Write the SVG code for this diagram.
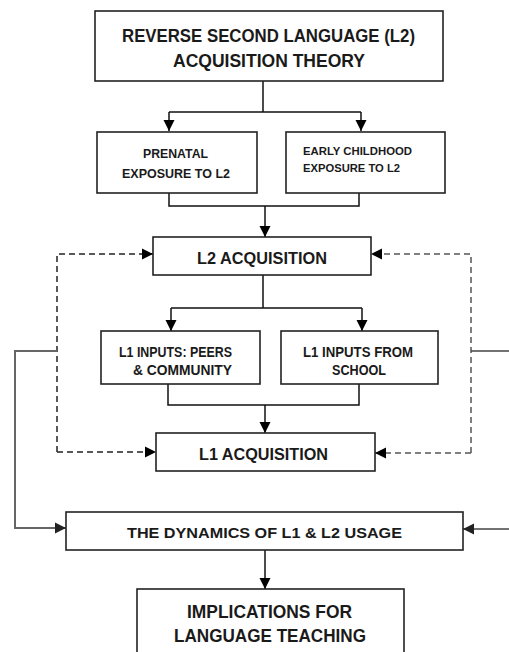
<svg xmlns="http://www.w3.org/2000/svg" width="509" height="652" viewBox="0 0 509 652">
<defs>
<marker id="ah" markerUnits="userSpaceOnUse" markerWidth="12" markerHeight="12" viewBox="0 0 12 12" refX="11" refY="6" orient="auto">
<path d="M0,0.5 L11,6 L0,11.5 Z" fill="#000"/>
</marker>
<marker id="ahg" markerUnits="userSpaceOnUse" markerWidth="12" markerHeight="12" viewBox="0 0 12 12" refX="11" refY="6" orient="auto">
<path d="M0,0.5 L11,6 L0,11.5 Z" fill="#222"/>
</marker>
</defs>
<style>
.box{fill:#fff;stroke:#222;stroke-width:1.6}
.t{font-family:"Liberation Sans",Arial,sans-serif;font-weight:bold;fill:#1a1a1a}
.ln{fill:none;stroke:#111;stroke-width:1.5}
.dl{fill:none;stroke:#222;stroke-width:1.5;stroke-dasharray:6,4}
.dr{fill:none;stroke:#555;stroke-width:1.5;stroke-dasharray:6,4}
.gl{fill:none;stroke:#666;stroke-width:2}
.gr{fill:none;stroke:#444;stroke-width:1.5}
</style>
<rect width="509" height="652" fill="#fff"/>
<g id="connectors">
<path class="ln" d="M263,81 V112 M169,112 H361"/>
<path class="ln" d="M169,112 V131" marker-end="url(#ah)"/>
<path class="ln" d="M361,112 V131" marker-end="url(#ah)"/>
<path class="ln" d="M169,193 V206 H359 V193"/>
<path class="ln" d="M265,206 V237" marker-end="url(#ah)"/>
<path class="ln" d="M263,275 V308 M171,308 H362"/>
<path class="ln" d="M171,308 V331" marker-end="url(#ah)"/>
<path class="ln" d="M362,308 V331" marker-end="url(#ah)"/>
<path class="ln" d="M168,384 V405 H359 V384"/>
<path class="ln" d="M265,405 V433" marker-end="url(#ah)"/>
<path class="dl" d="M57,452 V254 H153" marker-end="url(#ah)"/>
<path class="dl" d="M57,452 H156" marker-end="url(#ah)"/>
<path class="dr" d="M471,453 V254 H371" marker-end="url(#ah)"/>
<path class="dr" d="M471,453 H375" marker-end="url(#ah)"/>
<path class="gl" d="M57,351 H15 V528 H66" marker-end="url(#ahg)"/>
<path class="gr" d="M509,351 H471"/>
<path class="gr" d="M509,529 H463" marker-end="url(#ahg)"/>
<path class="ln" d="M265,550 V589" marker-end="url(#ah)"/>
</g>
<g id="node-theory">
<rect class="box" x="95" y="11" width="348" height="70"/>
<text class="t" x="122" y="42" font-size="19" textLength="293" lengthAdjust="spacingAndGlyphs">REVERSE SECOND LANGUAGE (L2)</text>
<text class="t" x="173" y="67" font-size="19" textLength="192" lengthAdjust="spacingAndGlyphs">ACQUISITION THEORY</text>
</g>
<g id="node-prenatal">
<rect class="box" x="97" y="132" width="160" height="61"/>
<text class="t" x="143" y="158" font-size="13.5" textLength="65" lengthAdjust="spacingAndGlyphs">PRENATAL</text>
<text class="t" x="122" y="178" font-size="13.5" textLength="108" lengthAdjust="spacingAndGlyphs">EXPOSURE TO L2</text>
</g>
<g id="node-early">
<rect class="box" x="286" y="132" width="159" height="61"/>
<text class="t" x="303" y="155" font-size="11.5" textLength="109" lengthAdjust="spacingAndGlyphs">EARLY CHILDHOOD</text>
<text class="t" x="303" y="172" font-size="11.5" textLength="97" lengthAdjust="spacingAndGlyphs">EXPOSURE TO L2</text>
</g>
<g id="node-l2">
<rect class="box" x="153" y="237" width="218" height="38"/>
<text class="t" x="197" y="264" font-size="17" textLength="130" lengthAdjust="spacingAndGlyphs">L2 ACQUISITION</text>
</g>
<g id="node-peers">
<rect class="box" x="101" y="331" width="159" height="53"/>
<text class="t" x="119" y="357" font-size="14.5" textLength="113" lengthAdjust="spacingAndGlyphs">L1 INPUTS: PEERS</text>
<text class="t" x="133" y="375" font-size="14.5" textLength="99" lengthAdjust="spacingAndGlyphs">&amp; COMMUNITY</text>
</g>
<g id="node-school">
<rect class="box" x="281" y="331" width="157" height="53"/>
<text class="t" x="303" y="357" font-size="14.5" textLength="110" lengthAdjust="spacingAndGlyphs">L1 INPUTS FROM</text>
<text class="t" x="332" y="375" font-size="14.5" textLength="54" lengthAdjust="spacingAndGlyphs">SCHOOL</text>
</g>
<g id="node-l1">
<rect class="box" x="156" y="433" width="219" height="38"/>
<text class="t" x="199" y="460" font-size="17" textLength="129" lengthAdjust="spacingAndGlyphs">L1 ACQUISITION</text>
</g>
<g id="node-dynamics">
<rect class="box" x="66" y="512" width="397" height="38"/>
<text class="t" x="127" y="538" font-size="15" textLength="275" lengthAdjust="spacingAndGlyphs">THE DYNAMICS OF L1 &amp; L2 USAGE</text>
</g>
<g id="node-implications">
<rect class="box" x="137" y="589" width="267" height="70"/>
<text class="t" x="187" y="618" font-size="18.5" textLength="165" lengthAdjust="spacingAndGlyphs">IMPLICATIONS FOR</text>
<text class="t" x="174" y="642" font-size="18.5" textLength="192" lengthAdjust="spacingAndGlyphs">LANGUAGE TEACHING</text>
</g>
</svg>
